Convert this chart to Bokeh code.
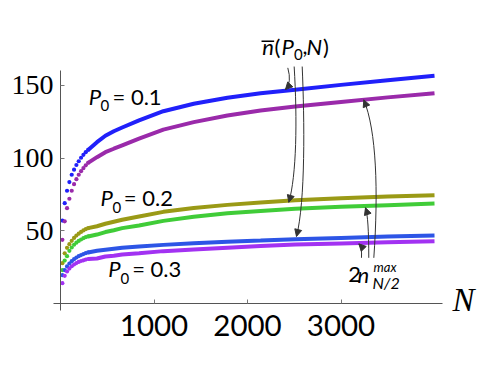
from bokeh.plotting import figure
from bokeh.models import Range1d, FixedTicker, Arrow, NormalHead, LinearAxis
from bokeh.core.properties import value
from bokeh.embed import file_html
from bokeh.resources import INLINE

# ---- data ----
N_early = [20, 45, 70, 95, 120, 145, 170, 195, 220, 245, 270, 295]
N_late = [295, 390, 480, 570, 660, 840, 1100, 1425, 1785, 2140, 2510, 3000, 3500, 4000]

nbar_p01_early = [57, 69, 77.5, 83.5, 88.5, 92, 95.2, 97.8, 100.2, 102.2, 104, 105.6]
nbar_p01_late = [105.6, 110.9, 115.3, 118.4, 121, 125.9, 132.2, 137.3, 141.5, 144.6, 147, 150.3, 153.5, 156.6]
nmax_p01_early = [43.8, 56.5, 65.5, 72, 77.5, 82, 85.5, 88.5, 91, 93, 95, 96.7]
nmax_p01_late = [96.7, 100.6, 104, 106.4, 108.7, 113.3, 119.5, 124.7, 129.3, 132.7, 135.5, 138.6, 141.7, 144.6]

nbar_p02_early = [27.7, 34.5, 38.3, 40.8, 43.1, 45.1, 46.7, 48, 49.2, 50.2, 51.1, 51.8]
nbar_p02_late = [51.8, 53.1, 54.8, 56.2, 57.6, 59.8, 63, 65.6, 67.8, 69.5, 70.9, 72.3, 73.5, 74.5]
nmax_p02_early = [23, 29.5, 32.5, 36.2, 38.5, 40.4, 41.8, 43, 44, 44.9, 45.6, 46.1]
nmax_p02_late = [46.1, 47.4, 49.1, 50.4, 51.8, 53.6, 56.8, 59.6, 62, 63.6, 65.1, 66.5, 67.6, 68.7]

nbar_p03_early = [19.5, 23, 25.5, 27.5, 29.1, 30.5, 31.6, 32.5, 33.3, 34, 34.6, 35.1]
nbar_p03_late = [35.1, 36.2, 36.9, 37.6, 38.3, 39.2, 40.3, 41.4, 42.5, 43.3, 44.2, 45.1, 46, 46.8]
nmax_p03_early = [14, 19, 22, 24, 25.6, 26.8, 27.8, 28.6, 29.2, 29.7, 30.2, 30.6]
nmax_p03_late = [30.6, 30.9, 32.3, 32.8, 33.7, 34.6, 36, 37.1, 38.3, 39.5, 40.5, 41.3, 42.1, 42.8]

x_ticks = [1000, 2000, 3000]
y_ticks = [50, 100, 150]

series = [
    (nbar_p01_early, nbar_p01_late, "#2020fa"),
    (nmax_p01_early, nmax_p01_late, "#9a2aaa"),
    (nbar_p02_early, nbar_p02_late, "#9a9a16"),
    (nmax_p02_early, nmax_p02_late, "#40cc38"),
    (nbar_p03_early, nbar_p03_late, "#2d55e6"),
    (nmax_p03_early, nmax_p03_late, "#a232f2"),
]

PX_PER_UNIT = 1.4545  # vertical scale of the frame (for text offsets)

p = figure(frame_width=483, frame_height=360, output_backend="svg", toolbar_location=None,
           x_range=Range1d(-641.7, 4524), y_range=Range1d(-39.19, 208.3),
           x_axis_type=None, y_axis_type=None,
           min_border_left=0, min_border_bottom=0, min_border_top=0, min_border_right=0)
p.outline_line_color = None
p.grid.visible = False
p.background_fill_color = "white"

xa = LinearAxis(fixed_location=0, bounds=(-74.9, 4086),
                ticker=FixedTicker(ticks=x_ticks, minor_ticks=[]))
xa.major_tick_in = 4
xa.major_tick_out = 0
xa.minor_tick_in = 0
xa.minor_tick_out = 0
xa.axis_line_color = "#555555"
xa.major_tick_line_color = "#777777"
xa.major_label_text_font = "Lato"
xa.major_label_text_font_size = "29.5px"
xa.major_label_text_color = "black"
xa.major_label_standoff = 12
p.add_layout(xa, "below")

ya = LinearAxis(fixed_location=0, bounds=(-4.8, 160.2),
                ticker=FixedTicker(ticks=y_ticks, minor_ticks=[]))
ya.major_tick_in = 4
ya.major_tick_out = 0
ya.minor_tick_in = 0
ya.minor_tick_out = 0
ya.axis_line_color = "#555555"
ya.major_tick_line_color = "#777777"
ya.major_label_text_font = "Liberation Serif"
ya.major_label_text_font_size = "28px"
ya.major_label_text_color = "black"
ya.major_label_standoff = 7
p.add_layout(ya, "left")

for early, late, col in series:
    p.line(N_late, late, line_color=col, line_width=4)
    p.scatter(N_early, early, size=4.2, fill_color=col, line_color=None, marker="circle")

# ---- annotations ----
def txt(s, x, y, size=22, style="normal", font="Lato"):
    # raise by ~0.4 em: the alphabetic baseline is drawn lower than the anchor
    yy = y + 0.4 * size / PX_PER_UNIT
    p.text(x=[x], y=[yy], text=[s], text_font=value(font), text_font_size=f"{size}px",
           text_font_style=style, text_baseline="alphabetic", text_align="left",
           text_color="black")

# P0 labels
for (px, py, sx, sy, ex, lab) in [(303, 136.5, 428, 132, 556, "= 0.1"),
                                  (428, 66.7, 556, 62.2, 677, "= 0.2"),
                                  (510, 17.9, 642, 13.4, 767, "= 0.3")]:
    txt("P", px, py, style="italic")
    txt("0", sx, sy, size=15)
    txt(lab, ex, py)

# n-bar(P0, N)
txt("n", 2157, 170.5, style="italic")
p.segment(x0=[2150], y0=[180.3], x1=[2285], y1=[180.3], line_color="black", line_width=1.5)
txt("(", 2289, 170.5)
txt("P", 2364, 170.5, style="italic")
txt("0", 2497, 167.1, size=15)
txt(",", 2588, 170.5)
txt("N", 2631, 170.5, style="italic")
txt(")", 2807, 170.5)

# 2 n^max_{N/2}
txt("2", 3077, 13.96)
txt("n", 3176, 13.96, style="italic")
txt("max", 3348, 21.5, size=13, style="italic")
txt("N/2", 3337, 10.1, size=16, style="italic")

# axis name N
txt("N", 4192, -6.9, size=33, style="italic", font="Liberation Serif")

# curved arrows
acol = "#333333"
p.quadratic(x0=[2431], y0=[162.0], x1=[2406], y1=[147.1], cx=[2476], cy=[151.9],
            line_color=acol, line_width=1)
p.quadratic(x0=[3219], y0=[31.4], x1=[3191], y1=[41.0], cx=[3226], cy=[38.7],
            line_color=acol, line_width=1)
p.quadratic(x0=[3297], y0=[31.4], x1=[3262], y1=[65.8], cx=[3297], cy=[59.3],
            line_color=acol, line_width=1)
p.bezier(x0=[2499], y0=[162.9], x1=[2442], y1=[69.6], cx0=[2534], cy0=[125.9],
         cx1=[2524], cy1=[88.0], line_color=acol, line_width=1)
p.bezier(x0=[2585], y0=[162.9], x1=[2524], y1=[46.1], cx0=[2610], cy0=[125.9],
         cx1=[2620], cy1=[70.4], line_color=acol, line_width=1)
p.bezier(x0=[3351], y0=[31.4], x1=[3244], y1=[140.0], cx0=[3401], cy0=[77.7],
         cx1=[3379], cy1=[118.9], line_color=acol, line_width=1)

for (x0, y0, x1, y1) in [(2476, 151.9, 2406, 147.1), (3226, 38.7, 3191, 41.0),
                         (3297, 59.3, 3262, 65.8), (2524, 88.0, 2442, 69.6),
                         (2620, 70.4, 2524, 46.1), (3379, 118.9, 3244, 140.0)]:
    p.add_layout(Arrow(x_start=x0, y_start=y0, x_end=x1, y_end=y1, line_alpha=0,
                       end=NormalHead(size=7, fill_color=acol, line_color=acol)))

open("out.html", "w").write(file_html(p, INLINE))
